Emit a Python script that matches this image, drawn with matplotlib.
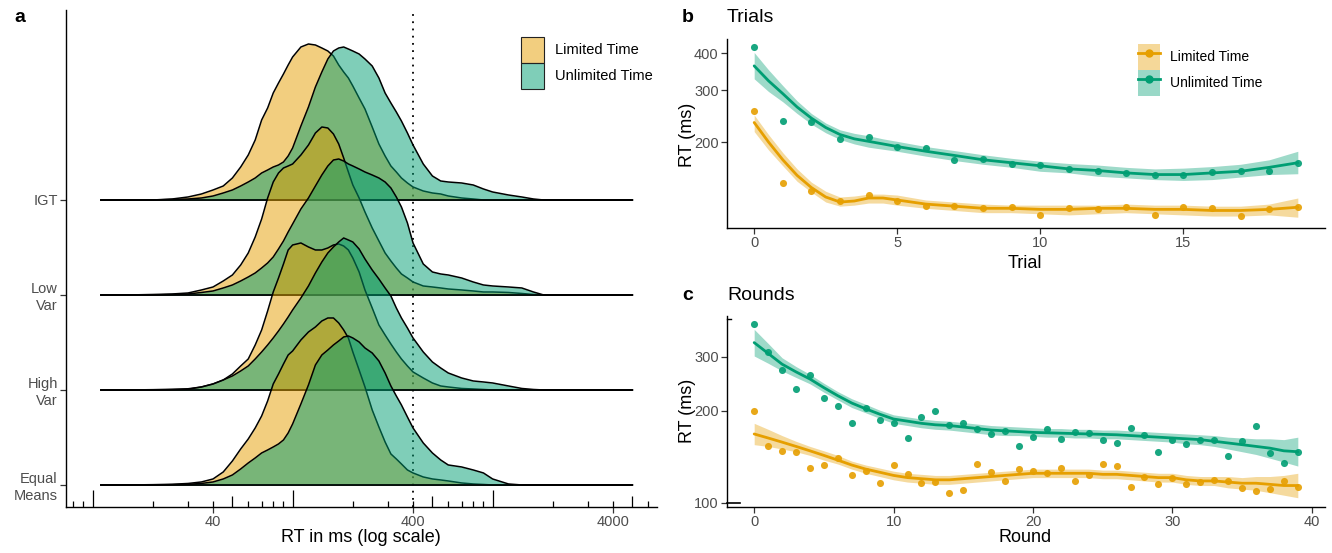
import matplotlib
matplotlib.use("Agg")
import matplotlib.pyplot as plt
import numpy as np
from matplotlib.colors import to_rgba
from matplotlib.lines import Line2D
from matplotlib.patches import Patch
from matplotlib.ticker import FixedLocator, NullLocator

plt.rcParams['font.family'] = ['Liberation Sans', 'DejaVu Sans']

W, H = 1332, 553
LIM = '#E69F00'
UNL = '#009E73'
TXT = '#4D4D4D'

# ---- panel a: ridge heights on an RT grid in ms
rt_grid = [11, 15, 20, 25, 30, 35, 40, 45, 50, 55, 60, 65, 70, 75, 80, 85, 90, 95, 100,
           110, 120, 130, 140, 150, 160, 170, 180, 190, 200, 215, 230, 250, 270, 290,
           310, 330, 350, 375, 400, 450, 500, 550, 600, 700, 800, 900, 1000, 1200, 1400,
           1600, 1800, 2000, 3000, 5000]

igt_lim = [0, 0, 0, 1, 3, 6, 10, 14, 22, 33, 45, 60, 80, 92, 107, 117, 126, 135, 143,
           153, 156, 155, 152, 149, 144, 135, 128, 122, 114, 102, 91, 73, 56, 44,
           34, 28, 22, 17, 13, 9, 7, 6, 4, 2, 1, 0, 0, 0, 0, 0, 0, 0, 0, 0]
igt_unl = [0, 0, 0, 0.5, 1, 2, 4, 7, 10, 14, 18, 22, 27, 30, 33, 35, 38, 44, 52,
           74, 93, 113, 128, 141, 149, 152, 153, 151, 149, 146, 141, 134, 122, 107,
           97, 88, 79, 67, 55, 36, 24, 19, 18, 17, 15, 11, 8, 5, 3, 1, 0, 0, 0, 0]
low_lim = [0, 0, 0.5, 1, 2, 5, 8, 14, 20, 30, 42, 58, 76, 97, 113, 122, 127, 129, 131,
           140, 150, 162, 168, 167, 161, 151, 137, 123, 110, 97, 83, 67, 54, 42,
           34, 27, 21, 17, 13, 9, 8, 7, 6, 5, 4, 3, 3, 2.5, 1.5, 0.5, 0, 0, 0, 0]
low_unl = [0, 0, 0, 0.5, 1, 2.5, 4, 7, 10, 14, 18, 22, 27, 32, 38, 46, 54, 63, 71,
           86, 97, 109, 120, 129, 135, 136, 134, 131, 129, 126, 123, 120, 117, 113,
           107, 98, 88, 72, 52, 31, 23, 21, 20, 17, 13, 10, 9, 8, 7, 3, 0, 0, 0, 0]
high_lim = [0, 0, 0.3, 0.7, 1.2, 3, 6, 10, 16, 24, 31, 45, 60, 79, 98, 112, 126, 140, 145,
            147, 143, 140, 140, 142, 145, 146, 144, 140, 132, 118, 100, 82, 65, 55,
            46, 38, 31, 24, 18, 12, 7, 4, 3, 1.5, 1, 0.5, 0, 0, 0, 0, 0, 0, 0, 0]
high_unl = [0, 0, 0, 0.3, 0.7, 3, 6, 10, 14, 19, 24, 31, 38, 45, 52, 59, 66, 73, 80,
            92, 104, 117, 128, 137, 143, 148, 152, 150, 148, 141, 131, 120, 111, 102,
            94, 82, 72, 62, 52, 38, 28, 22, 17, 12, 9, 8, 7, 4, 1.5, 0.5, 0, 0, 0, 0]
eq_lim = [0, 0, 0.3, 0.7, 1.5, 3, 6, 13, 24, 36, 46, 57, 69, 84, 101, 111, 121, 130, 134,
          145, 153, 158, 164, 167, 167, 162, 155, 147, 133, 115, 98, 75, 58, 43,
          31, 26, 21, 15, 12, 8, 6, 5, 4, 2, 1, 0.5, 0, 0, 0, 0, 0, 0, 0, 0]
eq_unl = [0, 0, 0, 0.3, 0.7, 1.5, 3, 6, 10, 16, 22, 27, 32, 35, 38, 41, 45, 52, 61,
          81, 100, 120, 130, 135, 140, 144, 148, 149, 147, 143, 137, 132, 124, 112,
          99, 89, 80, 68, 57, 42, 32, 25, 20, 18, 15, 12, 6, 1, 0, 0, 0, 0, 0, 0]

row_names = ['Equal\nMeans', 'High\nVar', 'Low\nVar', 'IGT']
row_pos = [1, 2, 3, 4]
ridge_scale = 95.0

# ---- panel b: trials (points per trial, smooth curve on a finer grid)
trial = [0, 1, 2, 3, 4, 5, 6, 7, 8, 9, 10, 11, 12, 13, 14, 15, 16, 17, 18, 19]
unl_pts_b = [421, 236, 233, 204, 208, 193, 191, 174, 175, 168, 167, 162, 160, 157, 155, 154, 158, 160, 160, 170]
lim_pts_b = [255, 145, 136, 126, 132, 126, 121, 121, 119, 120, 113, 119, 118, 120, 113, 120, 119, 112, 118, 120]

fit_trial = [0, 0.5, 1, 1.5, 2, 2.5, 3, 3.5, 4, 4.5, 5, 6, 7, 8, 9, 10, 11, 12, 13, 14, 15, 16, 17, 18, 19]
unl_fit_b = [363, 323, 292, 263, 241, 224, 212, 205, 201, 197, 193, 186, 180, 174, 170, 166, 162, 160, 157, 155, 155, 157, 159, 164, 170]
unl_hi_b = [403, 352, 311, 276, 250, 232, 220, 214, 210, 205, 201, 193, 187, 181, 176, 172, 169, 167, 164, 162, 163, 165, 168, 174, 186]
unl_lo_b = [328, 297, 274, 250, 230, 215, 204, 197, 192, 189, 186, 179, 173, 168, 164, 159, 157, 153, 151, 149, 148, 149, 152, 155, 156]
lim_fit_b = [233, 200, 174, 154, 140, 130, 125, 126, 129, 129, 127, 123, 121, 119, 119, 118, 118, 119, 119, 118, 118, 117, 117, 118, 120]
lim_hi_b = [247, 212, 184, 162, 146, 136, 130, 131, 133, 133, 132, 127, 125, 123, 122, 122, 122, 122, 123, 122, 122, 121, 121, 123, 129]
lim_lo_b = [217, 188, 166, 147, 135, 125, 121, 122, 124, 124, 122, 119, 117, 115, 115, 114, 113, 114, 115, 114, 113, 112, 112, 113, 111]

# ---- panel c: rounds
rnd = list(range(40))
unl_pts_c = [383, 312, 272, 235, 262, 221, 208, 183, 204, 186, 182, 163, 191, 199, 180, 183, 174, 168, 172, 154,
             164, 174, 162, 171, 169, 160, 157, 176, 167, 147, 161, 156, 160, 160, 142, 159, 178, 146, 135, 147]
unl_fit_c = [334, 308, 284, 268, 254, 238, 224, 212, 203, 195, 188, 185, 182, 180, 179, 177, 175, 173, 172, 171,
             170, 169.5, 169, 168.5, 168, 167.5, 167, 166, 165, 164, 163, 162, 161, 159, 157, 155, 153, 151, 148, 147]
unl_hi_c = [369, 332, 298, 279, 263, 246, 231, 219, 210, 201, 194, 191, 188, 186, 185, 183, 181, 179, 178, 177,
            176, 175, 175, 174, 174, 173, 173, 172, 171, 170, 169, 168, 167, 166, 164, 163, 162, 162, 161, 164]
unl_lo_c = [302, 286, 270, 257, 245, 230, 217, 205, 197, 189, 182, 179, 176, 174, 173, 171, 169, 167, 166, 166,
            165, 164, 164, 163, 163, 162, 162, 161, 160, 159, 158, 156, 155, 153, 150, 147, 144, 140, 136, 132]
lim_pts_c = [199, 154, 148, 147, 130, 133, 140, 123, 127, 116, 133, 124, 116, 117, 108, 110, 134, 126, 118, 129,
             127, 125, 130, 118, 123, 134, 132, 113, 122, 115, 121, 115, 117, 119, 118, 112, 109, 111, 118, 113]
lim_fit_c = [168, 163, 158, 153, 148, 143, 138, 133, 129, 126, 123, 121, 120, 119, 119, 120, 121, 122, 123, 124,
             125, 125, 125, 125, 125, 124, 124, 123, 122, 121, 121, 119, 118, 118, 117, 116, 116, 115, 114, 114]
lim_hi_c = [182, 174, 166, 159, 153, 148, 143, 137, 133, 130, 127, 125, 124, 123, 123, 124, 125, 126, 127, 128,
            129, 129, 129, 129, 129, 128, 128, 127, 126, 125, 125, 123, 122, 122, 122, 121, 122, 122, 123, 125]
lim_lo_c = [155, 153, 150, 147, 143, 138, 134, 129, 125, 122, 119, 117, 116, 115, 115, 116, 117, 118, 119, 120,
            121, 121, 121, 121, 121, 120, 120, 119, 118, 117, 117, 115, 114, 114, 112, 111, 110, 108, 106, 104]

labels = ['Limited Time', 'Unlimited Time']


def style(ax):
    for s in ['top', 'right']:
        ax.spines[s].set_visible(False)
    for s in ['left', 'bottom']:
        ax.spines[s].set_linewidth(1.0)
    ax.tick_params(axis='both', which='major', length=4, width=0.9, color='#333333',
                   labelcolor=TXT, labelsize=10.5, pad=2)


fig = plt.figure(figsize=(W / 100, H / 100), dpi=100)

# ================= panel a
axa = fig.add_axes([66 / W, 1 - 507 / H, (657 - 66) / W, (507 - 10) / H])
style(axa)
axa.set_xscale('log')
axa.set_xlim(7.36, 6636)
axa.set_ylim(0.768, 6.0)
axa.axvline(400, color='black', lw=1.3, ls=(0, (1, 3)), zorder=1)

rows = [(4, igt_lim, igt_unl), (3, low_lim, low_unl), (2, high_lim, high_unl), (1, eq_lim, eq_unl)]
z = 2
for base, d_lim, d_unl in rows:
    for d, col in [(d_lim, LIM), (d_unl, UNL)]:
        top = base + np.array(d) / ridge_scale
        axa.fill_between(rt_grid, base, top, color=col, alpha=0.5, lw=0, zorder=z)
        axa.plot(rt_grid, top, color='black', lw=1.1, zorder=z + 0.5)
        axa.plot([rt_grid[0], rt_grid[-1]], [base, base], color='black', lw=1.1, zorder=z + 0.5)
        z += 1

axa.set_yticks(row_pos)
axa.set_yticklabels(row_names, linespacing=1.25)
axa.xaxis.set_major_locator(FixedLocator([40, 400, 4000]))
axa.set_xticklabels(['40', '400', '4000'])
axa.xaxis.set_minor_locator(NullLocator())

# log ticks along the bottom
tick_short = [8, 9, 20, 30, 40, 60, 70, 80, 90, 200, 300, 400, 600, 700, 800, 900,
              2000, 3000, 4000, 6000]
tick_mid = [50, 500, 5000]
tick_long = [10, 100, 1000]
xt = axa.get_xaxis_transform()
axa.vlines(tick_short, 0, 0.012, transform=xt, color='black', lw=0.9, zorder=20)
axa.vlines(tick_mid, 0, 0.022, transform=xt, color='black', lw=0.9, zorder=20)
axa.vlines(tick_long, 0, 0.035, transform=xt, color='black', lw=0.9, zorder=20)

leg_a = [Patch(facecolor=to_rgba(LIM, 0.5), edgecolor='#222222', lw=0.8),
         Patch(facecolor=to_rgba(UNL, 0.5), edgecolor='#222222', lw=0.8)]
axa.legend(leg_a, labels, loc='upper left', bbox_to_anchor=(521 / W, 1 - 37 / H),
           bbox_transform=fig.transFigure, frameon=False, fontsize=10.5,
           handlelength=1.6, handleheight=2.36, labelspacing=0.0, handletextpad=0.7,
           borderpad=0, borderaxespad=0)

fig.text(361 / W, 1 - 538 / H, 'RT in ms (log scale)', ha='center', va='center', fontsize=13)
fig.text(14 / W, 1 - 18 / H, 'a', ha='left', va='center', fontsize=14, weight='bold')


# ================= panels b and c
def trend_panel(ax, x, fx, series, xlim, ylim, xt_, yt_):
    style(ax)
    ax.set_yscale('log')
    for pts, fit, lo, hi, col in series:
        ax.scatter(x, pts, s=26, color=col, alpha=0.9, lw=0, zorder=3)
        ax.fill_between(fx, lo, hi, color=col, alpha=0.38, lw=0, zorder=2)
        ax.plot(fx, fit, color=col, lw=2.0, zorder=4, solid_capstyle='round')
    ax.set_xlim(*xlim)
    ax.set_ylim(*ylim)
    ax.set_xticks(xt_)
    ax.yaxis.set_major_locator(FixedLocator(yt_))
    ax.yaxis.set_minor_locator(NullLocator())
    ax.set_yticklabels([str(v) for v in yt_])


axb = fig.add_axes([727 / W, 1 - 228 / H, 598 / W, 189 / H])
trend_panel(axb, trial, fit_trial,
            [(lim_pts_b, lim_fit_b, lim_lo_b, lim_hi_b, LIM),
             (unl_pts_b, unl_fit_b, unl_lo_b, unl_hi_b, UNL)],
            (-0.95, 19.95), (102, 448), [0, 5, 10, 15], [200, 300, 400])

leg_b = [(Patch(facecolor=to_rgba(LIM, 0.4), lw=0),
          Line2D([], [], color=LIM, lw=2, marker='o', ms=5)),
         (Patch(facecolor=to_rgba(UNL, 0.4), lw=0),
          Line2D([], [], color=UNL, lw=2, marker='o', ms=5))]
axb.legend(leg_b, labels, loc='upper left', bbox_to_anchor=(1138 / W, 1 - 44 / H),
           bbox_transform=fig.transFigure, frameon=False, fontsize=10,
           handlelength=1.6, handleheight=2.5, labelspacing=0.0, handletextpad=0.7,
           borderpad=0, borderaxespad=0)

axc = fig.add_axes([727 / W, 1 - 507 / H, 598 / W, 191 / H])
trend_panel(axc, rnd, rnd,
            [(lim_pts_c, lim_fit_c, lim_lo_c, lim_hi_c, LIM),
             (unl_pts_c, unl_fit_c, unl_lo_c, unl_hi_c, UNL)],
            (-1.95, 40.95), (97, 408), [0, 10, 20, 30, 40], [100, 200, 300])
yt = axc.get_yaxis_transform()
axc.plot([0, 0.022], [100, 100], transform=yt, color='black', lw=1.2, clip_on=False)
axc.plot([0, 0.006], [400, 400], transform=yt, color='black', lw=1.0, clip_on=False)

fig.text(682 / W, 1 - 18 / H, 'b', ha='left', va='center', fontsize=14, weight='bold')
fig.text(727 / W, 1 - 18 / H, 'Trials', ha='left', va='center', fontsize=14)
fig.text(682 / W, 1 - 296 / H, 'c', ha='left', va='center', fontsize=14, weight='bold')
fig.text(727 / W, 1 - 296 / H, 'Rounds', ha='left', va='center', fontsize=14)
fig.text(1025 / W, 1 - 263 / H, 'Trial', ha='center', va='center', fontsize=13)
fig.text(1025 / W, 1 - 538 / H, 'Round', ha='center', va='center', fontsize=13)
fig.text(688 / W, 1 - 135 / H, 'RT (ms)', ha='center', va='center', rotation=90, fontsize=13)
fig.text(688 / W, 1 - 411 / H, 'RT (ms)', ha='center', va='center', rotation=90, fontsize=13)

fig.savefig('out.png', dpi=100)
